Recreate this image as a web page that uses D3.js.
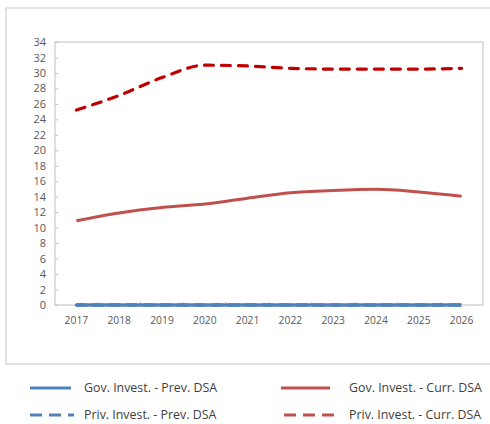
<!DOCTYPE html>
<html><head><meta charset="utf-8">
<script src="https://cdn.jsdelivr.net/npm/d3@7"></script>
<style>body{margin:0;background:#fff}svg{display:block}</style>
</head><body>
<svg id="c" width="490" height="424"></svg>
<script>
const years = ["2017","2018","2019","2020","2021","2022","2023","2024","2025","2026"];
const govPrev = [0,0,0,0,0,0,0,0,0,0];
const privPrev = [0,0,0,0,0,0,0,0,0,0];
const govCurr = [10.9,11.9,12.6,13.05,13.8,14.5,14.8,14.95,14.6,14.05];
const privCurr = [25.2,27.1,29.4,31.0,30.9,30.6,30.5,30.5,30.5,30.6];
const yTicks = d3.range(0,35,2);
const seriesNames = ["Gov. Invest. - Prev. DSA","Gov. Invest. - Curr. DSA","Priv. Invest. - Prev. DSA","Priv. Invest. - Curr. DSA"];

const svg = d3.select("#c");
const font = "'Open Sans', 'Noto Sans', sans-serif";

// partially visible title at top (cut off in the reference as well)
svg.append("text").attr("x",240).attr("y",-7).attr("text-anchor","middle")
  .attr("font-family",font).attr("font-size",12).attr("fill","#4F81BD").text("(In percent of GDP)");

// outer box
svg.append("rect").attr("x",6).attr("y",8).attr("width",490).attr("height",356)
  .attr("fill","none").attr("stroke","#d9d9d9").attr("stroke-width",1.5);

const L=55,R=483,T=42,B=305;
const x = d3.scaleBand().domain(years).range([L,R]);
const y = d3.scaleLinear().domain([0,34]).range([B,T]);

// plot frame
svg.append("rect").attr("x",L).attr("y",T).attr("width",R-L).attr("height",B-T)
  .attr("fill","none").attr("stroke","#bfbfbf").attr("stroke-width",1);

// y axis
const ya = svg.append("g").attr("transform",`translate(${L},0)`)
  .call(d3.axisLeft(y).tickValues(yTicks).tickSize(-3).tickPadding(9));
ya.select(".domain").remove();
ya.selectAll("line").attr("stroke","#bfbfbf");
ya.selectAll("text").attr("font-family",font).attr("font-size",11).attr("fill","#595959");

// x axis
const xa = svg.append("g").attr("transform",`translate(0,${B})`)
  .call(d3.axisBottom(x).tickSize(0).tickPadding(12));
xa.select(".domain").remove();
xa.selectAll("text").attr("font-family",font).attr("font-size",10.3).attr("fill","#595959");
svg.append("g").selectAll("line").data(years.slice(1)).join("line")
  .attr("x1",d=>x(d)).attr("x2",d=>x(d)).attr("y1",B).attr("y2",B-3)
  .attr("stroke","#bfbfbf");

const line = d3.line().x((d,i)=>x(years[i])+x.bandwidth()/2).y(d=>y(d)).curve(d3.curveMonotoneX);

const series = [
  {v:privCurr, c:"#C00000", dash:"9,8", w:3.2},
  {v:govCurr, c:"#C0504D", dash:null, w:3},
  {v:privPrev, c:"#4F81BD", dash:"9,8", w:3.4},
  {v:govPrev, c:"#4F81BD", dash:null, w:3.4}
];
series.forEach(s=>{
  svg.append("path").attr("d",line(s.v)).attr("fill","none").attr("stroke",s.c)
    .attr("stroke-width",s.w).attr("stroke-dasharray",s.dash).attr("stroke-linecap",s.dash?"round":"butt");
});

// legend
const leg = [
  {n:seriesNames[0], c:"#4F81BD", dash:null, x1:30, x2:71, tx:84, y:388},
  {n:seriesNames[1], c:"#C0504D", dash:null, x1:281, x2:330, tx:349, y:388},
  {n:seriesNames[2], c:"#4F81BD", dash:"12,7", x1:30, x2:74, tx:84, y:415},
  {n:seriesNames[3], c:"#C0504D", dash:"12,7", x1:284, x2:335, tx:349, y:415}
];
leg.forEach(l=>{
  svg.append("line").attr("x1",l.x1).attr("x2",l.x2).attr("y1",l.y).attr("y2",l.y)
    .attr("stroke",l.c).attr("stroke-width",3).attr("stroke-dasharray",l.dash);
  svg.append("text").attr("x",l.tx).attr("y",l.y+4).attr("font-family",font)
    .attr("font-size",12.4).attr("fill","#404040").text(l.n);
});
</script>
</body></html>
